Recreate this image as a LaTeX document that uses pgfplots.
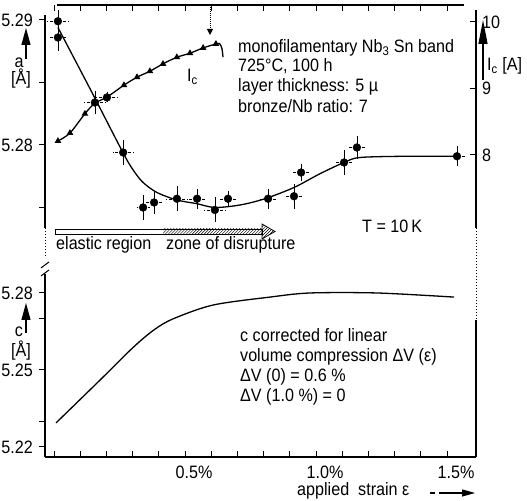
\documentclass[border=0pt]{standalone}
\usepackage{pgfplots}
\pgfplotsset{compat=1.18}
\usepackage{pgfplotstable}
\usepackage{fontspec}
\setmainfont{Liberation Sans}[FakeStretch=0.9]
\usetikzlibrary{arrows.meta,patterns}

% lattice parameter a, measured points with errors
\pgfplotstableread{
x      a       ex     ey
0.015  5.2899  0.040  0.0009
0.015  5.2886  0.030  0.0011
0.156  5.2834  0.040  0.0009
0.202  5.2838  0.040  0.0004
0.264  5.2794  0.040  0.0010
0.340  5.2750  0.025  0.0010
0.382  5.2754  0.030  0.0009
0.469  5.2757  0.040  0.0010
0.546  5.2757  0.030  0.0008
0.614  5.2748  0.040  0.0010
0.664  5.2757  0.030  0.0006
0.817  5.2757  0.030  0.0008
0.916  5.2759  0.030  0.0010
0.943  5.2778  0.030  0.0007
1.107  5.2786  0.030  0.0010
1.156  5.2798  0.030  0.0009
1.538  5.2791  0.030  0.0008
}\adata

% drawn curve through the a points
\pgfplotstableread{
x      a
0.015  5.2894
0.140  5.2844
0.263  5.2794
0.302  5.2780
0.340  5.2770
0.393  5.2762
0.469  5.2756
0.546  5.2753
0.614  5.2750
0.710  5.2752
0.805  5.2757
0.916  5.2766
1.015  5.2777
1.107  5.2786
1.168  5.2790
1.350  5.2791
1.538  5.2791
}\afit

% critical current
\pgfplotstableread{
x      Ic
0.015  8.21
0.061  8.33
0.118  8.62
0.156  8.78
0.202  8.87
0.267  9.05
0.317  9.17
0.366  9.26
0.416  9.37
0.469  9.47
0.519  9.53
0.569  9.61
0.618  9.67
}\icdata

% lattice parameter c
\pgfplotstableread{
x      c
0.008  5.2294
0.176  5.2461
0.300  5.2586
0.380  5.2655
0.454  5.2699
0.607  5.2753
0.824  5.2784
0.977  5.2800
1.233  5.2800
1.527  5.2784
}\cdata

\begin{document}
\fontsize{18}{21}\selectfont
\begin{tikzpicture}[x=1bp,y=1bp]
\useasboundingbox (0,0) rectangle (527,501);
\pgfplotsset{
  panel/.style={scale only axis, width=431bp, xmin=-0.03435, xmax=1.61069,
    clip=false, axis line style={line width=1.2bp,-},
    every tick/.style={line width=1bp,black},
    major tick length=6bp, minor tick length=6bp,
    /pgf/number format/assume math mode=true},
  toppanel/.style={panel, at={(45bp,273bp)}, anchor=south west, height=223bp},
  botpanel/.style={panel, at={(45bp,44bp)}, anchor=south west, height=183bp},
}

% top panel: a (left axis)
\begin{axis}[toppanel, ymin=5.27336, ymax=5.2912,
  axis x line=none, axis y line*=left, tick align=outside,
  ytick={5.28,5.29}, yticklabels={5.28,5.29},
  minor ytick={5.275,5.285},
  y axis line style={shorten >=10bp}]
\addplot[only marks, mark=none, line width=1bp,
  error bars/.cd, y dir=both, y explicit, error mark=none]
  table[x=x, y=a, y error=ey] {\adata};
\addplot[only marks, mark=none, line width=1bp,
  error bars/.cd, x dir=both, x explicit, error mark=none,
  error bar style={dash pattern=on 3bp off 2bp}]
  table[x=x, y=a, x error=ex] {\adata};
\addplot[only marks, mark=*, mark size=3.9bp, black] table[x=x, y=a] {\adata};
\addplot[smooth, line width=1.3bp, black] table[x=x, y=a] {\afit};
\end{axis}

% top border with ticks
\begin{axis}[toppanel, ymin=0, ymax=1,
  axis y line=none, axis x line*=top, tick align=inside,
  xtick={0,0.1,...,1.5}, xticklabels={},
  x axis line style={shorten <=12bp, shorten >=12bp}]
\end{axis}

% top panel: Ic (right axis)
\begin{axis}[toppanel, ymin=6.902, ymax=10.2556,
  axis x line=none, axis y line*=right, tick align=inside,
  ytick={8,9,10}, yticklabels={8,9,10},
  y axis line style={shorten >=5bp}]
\addplot[smooth, line width=1.3bp, black, mark=triangle*, mark size=2.6bp]
  table[x=x, y=Ic] {\icdata};
\addplot[smooth, line width=1.3bp, black] coordinates {
  (0.618,9.67) (0.632,9.675) (0.641,9.60) (0.645,9.47)};
\end{axis}

% bottom panel: c (left axis)
\begin{axis}[botpanel, ymin=5.2161, ymax=5.2874,
  axis x line=none, axis y line*=left, tick align=outside,
  ytick={5.22,5.25,5.28}, yticklabels={5.22,5.25,5.28},
  minor ytick={5.23,5.27}]
\addplot[smooth, line width=1.3bp, black] table[x=x, y=c] {\cdata};
\end{axis}

% bottom panel: strain axis and right border
\begin{axis}[botpanel, ymin=0, ymax=1,
  axis x line*=bottom, axis y line*=right, tick align=inside,
  ytick=\empty,
  xtick={0.5,1.0,1.5}, xticklabels={0.5\%,1.0\%,1.5\%},
  minor xtick={0,0.1,...,1.5},
  xticklabel style={xshift=9bp, yshift=-3bp},
  y axis line style={shorten >=46bp}]
\end{axis}

% axis labels
\draw[line width=1.2bp,-{Triangle[length=17bp,width=9bp]}] (26,442) -- (26,473);
\node at (19,438) {a};
\node at (21,422) {[Å]};
\draw[line width=1.2bp,-{Triangle[length=24bp,width=9bp]}] (483,421) -- (483,481);
\node[anchor=west, inner sep=0pt] at (487,435) {I\textsubscript{c} [A]};
\draw[line width=1.2bp,-{Triangle[length=17bp,width=9bp]}] (26,168) -- (26,198);
\node at (19,169) {c};
\node at (21,150) {[Å]};
\node[anchor=base west, inner sep=0pt] at (297,5) {applied\ \ strain\ ε};
\draw[line width=1.2bp, dash pattern=on 5bp off 4bp on 40bp, -{Triangle[length=13bp,width=7bp]}] (430,8) -- (475,8);

% axis breaks and dotted continuations
\draw[line width=1bp, dotted] (476,273) -- (476,181);
\draw[line width=1bp, dotted] (45,273) -- (45,246);
\draw[line width=1bp] (41,233) -- (49,239);
\draw[line width=1bp] (41,225) -- (49,231);

% strain regions band
\draw[line width=0.8bp] (55,267) rectangle (262,272);
\fill[pattern=north east lines] (163,267) rectangle (262,272);
\filldraw[line width=0.8bp, pattern=north east lines] (262,277) -- (275,269.5) -- (262,262) -- cycle;
\node[anchor=base west, inner sep=0pt] at (56,251) {elastic region};
\node[anchor=base west, inner sep=0pt] at (166,251) {zone of disrupture};

% dotted arrow marking the Ic maximum
\draw[line width=1bp, densely dotted, -{Triangle[length=6bp,width=6bp]}] (210,496) -- (210,466);

% annotations
\node[anchor=base west, inner sep=0pt] at (187,419) {I\textsubscript{c}};
\node[anchor=base west, inner sep=0pt] at (238,448) {monofilamentary Nb\textsubscript{3} Sn band};
\node[anchor=base west, inner sep=0pt] at (238,429) {725°C, 100 h};
\node[anchor=base west, inner sep=0pt] at (238,409) {layer thickness: 5 µ};
\node[anchor=base west, inner sep=0pt] at (238,388) {bronze/Nb ratio: 7};
\node[anchor=base west, inner sep=0pt] at (362,268) {T = 10\,K};
\node[anchor=base west, inner sep=0pt] at (240,159) {c corrected for linear};
\node[anchor=base west, inner sep=0pt] at (240,139) {volume compression ΔV (ε)};
\node[anchor=base west, inner sep=0pt] at (240,119) {ΔV (0) = 0.6 \%};
\node[anchor=base west, inner sep=0pt] at (240,99) {ΔV (1.0 \%) = 0};
\end{tikzpicture}
\end{document}
